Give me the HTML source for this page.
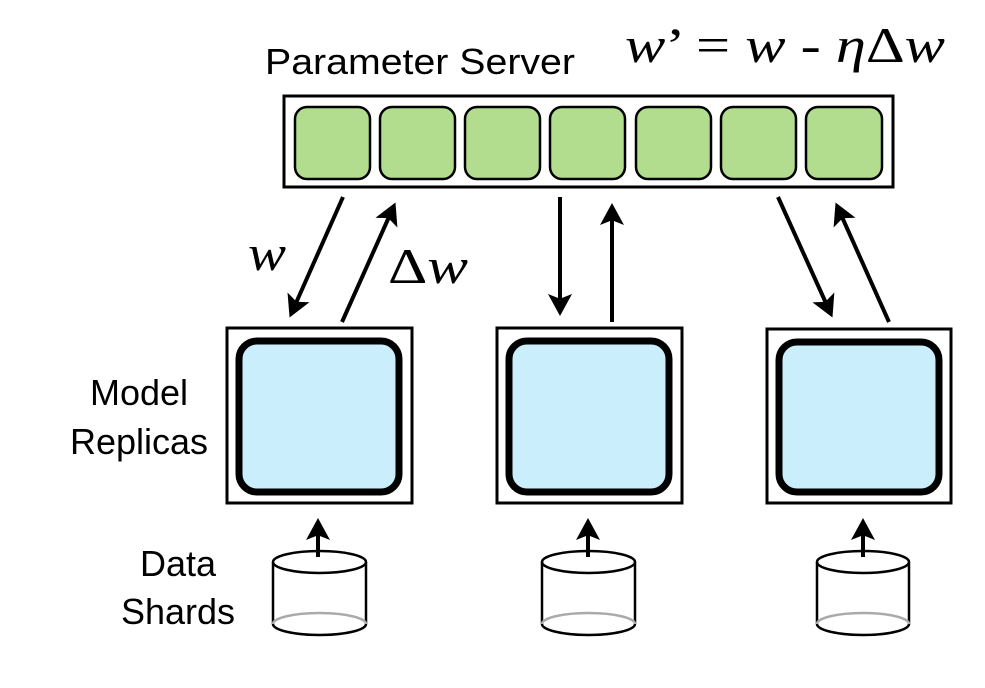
<!DOCTYPE html>
<html><head><style>body{margin:0;background:#fff}</style></head><body>
<svg width="985" height="683" viewBox="0 0 985 683" xmlns="http://www.w3.org/2000/svg">
<defs>
<marker id="a" markerWidth="6" markerHeight="6" refX="4" refY="3" orient="auto" markerUnits="strokeWidth"><path d="M0,0 L5.5,3 L0,6 L1.2,3 z" fill="#000"/></marker>
</defs>
<text x="265" y="74" font-family="Liberation Sans, sans-serif" font-size="36" fill="#000" textLength="310" lengthAdjust="spacingAndGlyphs">Parameter Server</text>
<text x="625" y="62" font-family="Liberation Serif, serif" font-size="50" fill="#000" textLength="320" lengthAdjust="spacingAndGlyphs"><tspan font-style="italic">w</tspan>’ = <tspan font-style="italic">w</tspan> - <tspan font-style="italic">η</tspan>Δ<tspan font-style="italic">w</tspan></text>
<rect x="284" y="96" width="609" height="91" fill="#fff" stroke="#000" stroke-width="3"/>
<g fill="#b2dd8e" stroke="#000" stroke-width="2.5">
<rect x="295" y="107" width="75" height="72" rx="12"/>
<rect x="380" y="107" width="75" height="72" rx="12"/>
<rect x="465" y="107" width="75" height="72" rx="12"/>
<rect x="550" y="107" width="75" height="72" rx="12"/>
<rect x="636" y="107" width="75" height="72" rx="12"/>
<rect x="721" y="107" width="75" height="72" rx="12"/>
<rect x="806" y="107" width="76" height="72" rx="12"/>
</g>
<g stroke="#000" stroke-width="4" marker-end="url(#a)">
<line x1="343" y1="197" x2="292" y2="312"/>
<line x1="342" y1="322" x2="393" y2="208"/>
<line x1="560" y1="197" x2="560" y2="310"/>
<line x1="612" y1="322" x2="612" y2="209"/>
<line x1="778" y1="197" x2="830" y2="312"/>
<line x1="889" y1="322" x2="838" y2="208"/>
<line x1="318" y1="557" x2="318" y2="524"/>
<line x1="588" y1="557" x2="588" y2="524"/>
<line x1="863" y1="557" x2="863" y2="524"/>
</g>
<text x="248" y="270" font-family="Liberation Serif, serif" font-style="italic" font-size="50" textLength="38" lengthAdjust="spacingAndGlyphs">w</text>
<text x="388" y="283" font-family="Liberation Serif, serif" font-size="50" textLength="80" lengthAdjust="spacingAndGlyphs">Δ<tspan font-style="italic">w</tspan></text>
<g font-family="Liberation Sans, sans-serif" font-size="36" text-anchor="middle" fill="#000">
<text x="139" y="405">Model</text>
<text x="139" y="454">Replicas</text>
<text x="178" y="576">Data</text>
<text x="178" y="624">Shards</text>
</g>
<g>
<rect x="227" y="328" width="185" height="175" fill="#fff" stroke="#000" stroke-width="3"/>
<rect x="239" y="341" width="160" height="151" rx="18" fill="#cbeefc" stroke="#000" stroke-width="7"/>
<rect x="497" y="328" width="185" height="175" fill="#fff" stroke="#000" stroke-width="3"/>
<rect x="509" y="341" width="160" height="151" rx="18" fill="#cbeefc" stroke="#000" stroke-width="7"/>
<rect x="767" y="329" width="184" height="174" fill="#fff" stroke="#000" stroke-width="3"/>
<rect x="779" y="342" width="160" height="150" rx="18" fill="#cbeefc" stroke="#000" stroke-width="7"/>
</g>
<g stroke-width="2.5" fill="#fff">
<g transform="translate(273,0)">
<path d="M0,562 L0,624 M93,562 L93,624" stroke="#000"/>
<path d="M0,624 A46.5,11 0 0 1 93,624" stroke="#aaa" fill="none"/>
<path d="M0,624 A46.5,11 0 0 0 93,624" stroke="#000" fill="none"/>
<ellipse cx="46.5" cy="562" rx="46.5" ry="11" stroke="#000" fill="none"/>
</g>
<g transform="translate(542,0)">
<path d="M0,562 L0,624 M93,562 L93,624" stroke="#000"/>
<path d="M0,624 A46.5,11 0 0 1 93,624" stroke="#aaa" fill="none"/>
<path d="M0,624 A46.5,11 0 0 0 93,624" stroke="#000" fill="none"/>
<ellipse cx="46.5" cy="562" rx="46.5" ry="11" stroke="#000" fill="none"/>
</g>
<g transform="translate(817,0)">
<path d="M0,562 L0,624 M92,562 L92,624" stroke="#000"/>
<path d="M0,624 A46,11 0 0 1 92,624" stroke="#aaa" fill="none"/>
<path d="M0,624 A46,11 0 0 0 92,624" stroke="#000" fill="none"/>
<ellipse cx="46" cy="562" rx="46" ry="11" stroke="#000" fill="none"/>
</g>
</g>
</svg>
</body></html>
